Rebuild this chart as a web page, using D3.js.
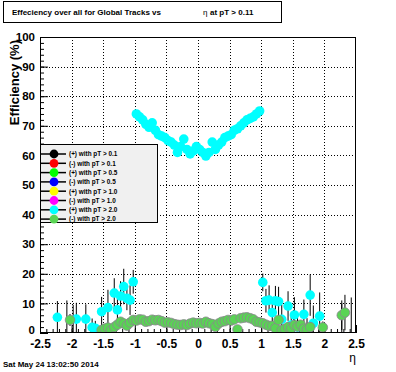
<!DOCTYPE html>
<html>
<head>
<meta charset="utf-8">
<script src="https://cdn.jsdelivr.net/npm/d3@7"></script>
<style>
  body { margin: 0; background: #fff; }
  text { font-family: "Liberation Sans", Arial, Helvetica, sans-serif; font-weight: bold; }
</style>
</head>
<body>
<svg id="chart" width="396" height="372"></svg>
<script>
// legend entries (only the last two series show up on the plot)
var legendLabels = ['(+) with pT > 0.1', '(-) with pT > 0.1', '(+) with pT > 0.5', '(-) with pT > 0.5',
                    '(+) with pT > 1.0', '(-) with pT > 1.0', '(+) with pT > 2.0', '(-) with pT > 2.0']
var legendColors = ['#000000', '#ff0000', '#00ff00', '#0000ff', '#ffff00', '#ff00ff', '#00ffff', '#59d454']

var xTicks = [-2.5, -2, -1.5, -1, -0.5, 0, 0.5, 1, 1.5, 2, 2.5]
var yTicks = [0, 10, 20, 30, 40, 50, 60, 70, 80, 90, 100]

// [eta, efficiency %, error]  (+) with pT > 2.0
var cyanPoints = [
  [-2.225, 5.3, 5.5], [-2.075, 0, 11], [-1.975, 0, 9.5], [-1.925, 4.7, 5.5], [-1.775, 4.7, 5],
  [-1.675, 1.9, 3], [-1.625, 1.6, 2.5], [-1.525, 7.2, 5], [-1.425, 8.6, 6], [-1.325, 13.5, 5],
  [-1.275, 7.8, 5], [-1.225, 12.5, 5], [-1.175, 15.7, 6], [-1.125, 11.7, 4], [-1.075, 11.1, 5],
  [-1.025, 17.3, 4],
  [-0.975, 74.0, 1], [-0.925, 73.0, 1], [-0.875, 72.0, 1], [-0.825, 70.5, 1], [-0.775, 69.5, 1],
  [-0.725, 71.0, 1], [-0.675, 68.5, 1], [-0.625, 67.0, 1], [-0.575, 66.5, 1], [-0.525, 66.0, 1],
  [-0.475, 65.0, 1], [-0.425, 64.5, 1], [-0.375, 63.5, 1], [-0.325, 61.0, 1], [-0.275, 63.0, 1],
  [-0.225, 65.5, 1], [-0.175, 62.0, 1], [-0.125, 60.5, 1], [-0.075, 61.5, 1], [-0.025, 63.0, 1],
  [0.025, 62.0, 1], [0.075, 61.0, 1], [0.125, 59.8, 1], [0.175, 61.0, 1], [0.225, 64.5, 1],
  [0.275, 62.0, 1], [0.325, 63.5, 1], [0.375, 64.5, 1], [0.425, 66.0, 1], [0.475, 66.5, 1],
  [0.525, 67.0, 1], [0.575, 68.5, 1], [0.625, 69.0, 1], [0.675, 70.0, 1], [0.725, 71.0, 1],
  [0.775, 72.0, 1], [0.825, 72.5, 1], [0.875, 73.0, 1], [0.925, 74.0, 1], [0.975, 75.0, 1],
  [1.025, 17.1, 3], [1.075, 10.9, 4], [1.125, 11.1, 5], [1.175, 6.9, 5], [1.225, 10.9, 5],
  [1.275, 10.6, 5], [1.325, 4.6, 5], [1.425, 9.1, 5], [1.475, 2.7, 4], [1.525, 6.1, 6],
  [1.575, 2.0, 5], [1.675, 6.3, 5], [1.725, 1.0, 4], [1.775, 12.8, 7], [1.825, 3.3, 6],
  [1.925, 5.7, 8], [2.275, 0, 10], [2.425, 0, 12]
]

// [eta, efficiency %, error]  (-) with pT > 2.0
var greenPoints = [
  [-2.025, 4.4, 2],
  [-1.525, 1.0, 1.5], [-1.475, 1.5, 1.5], [-1.425, 1.8, 1.5], [-1.375, 1.0, 1.5], [-1.325, 2.0, 1.5],
  [-1.275, 2.8, 1.5], [-1.225, 3.8, 1.5], [-1.175, 3.2, 1.5], [-1.125, 2.5, 1.5], [-1.075, 3.5, 1.5],
  [-1.025, 4.4, 1.5], [-0.975, 4.2, 1], [-0.925, 4.6, 1], [-0.875, 4.5, 1], [-0.825, 3.8, 1],
  [-0.775, 4.0, 1], [-0.725, 4.5, 1], [-0.675, 4.3, 1], [-0.625, 4.4, 1], [-0.575, 4.0, 1],
  [-0.525, 3.5, 1], [-0.475, 3.6, 1], [-0.425, 3.4, 1], [-0.375, 3.0, 1], [-0.325, 2.8, 1],
  [-0.275, 2.7, 1], [-0.225, 2.9, 1], [-0.175, 2.7, 1], [-0.125, 3.2, 1], [-0.075, 3.5, 1],
  [-0.025, 3.3, 1], [0.025, 3.4, 1], [0.075, 3.2, 1], [0.125, 3.8, 1], [0.175, 3.3, 1],
  [0.225, 3.0, 1], [0.275, 2.1, 1], [0.325, 3.2, 1], [0.375, 3.8, 1], [0.425, 4.0, 1],
  [0.475, 4.4, 1], [0.525, 4.2, 1], [0.575, 4.6, 1], [0.625, 1.2, 1], [0.675, 5.0, 1],
  [0.725, 5.2, 1], [0.775, 5.3, 1], [0.825, 5.0, 1], [0.875, 4.6, 1], [0.925, 3.8, 1],
  [0.975, 3.6, 1], [1.025, 3.3, 1.5], [1.075, 2.8, 1.5], [1.125, 2.4, 1.5], [1.175, 2.4, 1.5],
  [1.225, 1.6, 1.5], [1.275, 4.4, 1.5], [1.325, 1.0, 1.5], [1.375, 1.4, 1.5], [1.425, 2.0, 1.5],
  [1.475, 1.6, 1.5], [1.525, 2.7, 1.5], [1.575, 2.2, 1.5], [1.625, 2.8, 1.5], [1.675, 1.5, 1.5],
  [1.725, 1.2, 1.5], [1.775, 2.0, 1.5], [1.975, 1.9, 2], [2.275, 6.0, 5], [2.325, 6.9, 6]
]

var fmt = function (d) { return String(d) }

var svg = d3.select('#chart')
svg.append('rect').attr('width', 396).attr('height', 372).attr('fill', '#fff')

var x = d3.scaleLinear().domain([-2.5, 2.5]).range([40, 356])
var y = d3.scaleLinear().domain([0, 100]).range([333, 37])

svg.append('clipPath').attr('id', 'frameClip')
  .append('rect')
  .attr('x', x(-2.5)).attr('y', y(100))
  .attr('width', x(2.5) - x(-2.5)).attr('height', y(0) - y(100))

// dotted grid
var grid = svg.append('g').attr('stroke', '#000').attr('stroke-dasharray', '1,2').attr('stroke-width', 1)
grid.selectAll('.vg').data(xTicks.slice(1, -1)).enter().append('line')
  .attr('x1', function (d) { return Math.round(x(d)) + 0.5 })
  .attr('x2', function (d) { return Math.round(x(d)) + 0.5 })
  .attr('y1', y(100)).attr('y2', y(0))
grid.selectAll('.hg').data(yTicks.slice(1, -1)).enter().append('line')
  .attr('y1', function (d) { return Math.round(y(d)) + 0.5 })
  .attr('y2', function (d) { return Math.round(y(d)) + 0.5 })
  .attr('x1', x(-2.5)).attr('x2', x(2.5))

// axes, ticks pointing into the frame
var xAxis = svg.append('g').attr('transform', 'translate(0,' + y(0) + ')')
  .call(d3.axisBottom(x).tickValues(xTicks).tickSize(-8).tickPadding(6).tickFormat(fmt))
xAxis.append('g')
  .call(d3.axisBottom(x).tickValues(d3.range(-2.5, 2.501, 0.1)).tickSize(-4).tickFormat(''))
xAxis.selectAll('.domain').remove()
xAxis.selectAll('text').attr('font-size', 12).attr('fill', '#000')

var yAxis = svg.append('g').attr('transform', 'translate(' + x(-2.5) + ',0)')
  .call(d3.axisLeft(y).tickValues(yTicks).tickSize(-8).tickPadding(5).tickFormat(fmt))
yAxis.append('g')
  .call(d3.axisLeft(y).tickValues(d3.range(0, 101, 2)).tickSize(-4).tickFormat(''))
yAxis.selectAll('.domain').remove()
yAxis.selectAll('text').attr('font-size', 11.5).attr('fill', '#000')
yAxis.selectAll('.tick text').filter(function (d) { return d === 0 }).attr('dy', '0.05em')

// series: error bars then markers
var plot = svg.append('g').attr('clip-path', 'url(#frameClip)')
function drawSeries (points, color, outline) {
  var g = plot.append('g')
  g.selectAll('line').data(points).enter().append('line')
    .attr('x1', function (d) { return x(d[0]) })
    .attr('x2', function (d) { return x(d[0]) })
    .attr('y1', function (d) { return y(d[1] - d[2]) })
    .attr('y2', function (d) { return y(d[1] + d[2]) })
    .attr('stroke', '#000').attr('stroke-width', 1)
  g.selectAll('circle').data(points.filter(function (d) { return d[1] > 0 })).enter().append('circle')
    .attr('cx', function (d) { return x(d[0]) })
    .attr('cy', function (d) { return y(d[1]) })
    .attr('r', 4.8)
    .attr('fill', color)
    .attr('stroke', outline || 'none')
    .attr('stroke-width', 0.8)
}
drawSeries(cyanPoints, legendColors[6])
drawSeries(greenPoints, legendColors[7], '#8d8490')

// frame
svg.append('rect')
  .attr('x', x(-2.5) + 0.5).attr('y', y(100) + 0.5)
  .attr('width', x(2.5) - x(-2.5) - 1).attr('height', y(0) - y(100) - 1)
  .attr('fill', 'none').attr('stroke', '#000')

// axis titles
svg.append('text')
  .attr('transform', 'translate(19,40) rotate(-90)')
  .attr('text-anchor', 'end').attr('font-size', 13)
  .text('Efficiency (%)')
svg.append('text')
  .attr('x', 356).attr('y', 362).attr('text-anchor', 'end')
  .attr('font-size', 12).style('font-weight', 'normal')
  .text('η')

// title box
svg.append('rect').attr('x', 3.5).attr('y', 1.5).attr('width', 278).attr('height', 21)
  .attr('fill', '#fff').attr('stroke', '#000')
var title = svg.append('text').attr('y', 15).attr('font-size', 8)
title.append('tspan').attr('x', 12).text('Effeciency over all for Global Tracks vs')
title.append('tspan').attr('x', 203).style('font-weight', 'normal').text('η')
title.append('tspan').attr('x', 210).text('at pT > 0.11')

// legend
var leg = svg.append('g')
leg.append('rect').attr('x', 40.5).attr('y', 144.5).attr('width', 117).attr('height', 78)
  .attr('fill', '#f0f0f0').attr('stroke', '#000')
var rows = leg.selectAll('.row').data(legendLabels).enter().append('g')
  .attr('transform', function (d, i) { return 'translate(0,' + (154 + i * 9.3) + ')' })
rows.append('line').attr('x1', 41).attr('x2', 66).attr('stroke', '#000').attr('stroke-width', 1.5)
rows.append('circle').attr('cx', 54).attr('r', 4.4)
  .attr('fill', function (d, i) { return legendColors[i] })
rows.append('text').attr('x', 69).attr('y', 2.3).attr('font-size', 6.4).text(function (d) { return d })

// date stamp
svg.append('text').attr('x', 3).attr('y', 367).attr('font-size', 8).text('Sat May 24 13:02:50 2014')
</script>
</body>
</html>
